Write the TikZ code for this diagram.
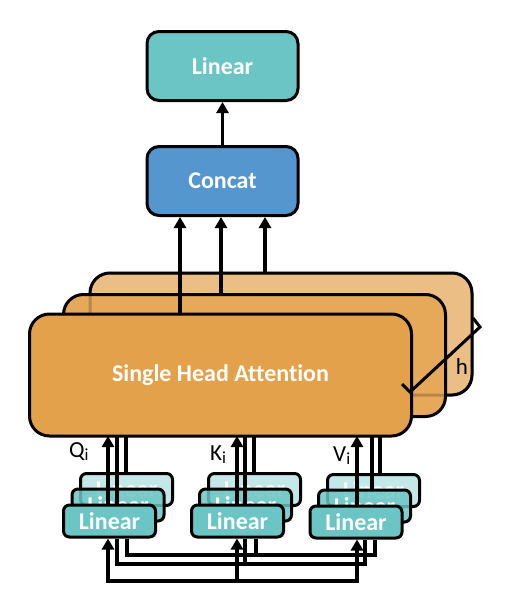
\documentclass[tikz,border=0pt]{standalone}
\usepackage{fontspec}
\setmainfont{Carlito}[Ligatures={NoCommon}]
\usetikzlibrary{arrows.meta,calc}
\definecolor{tealA}{RGB}{107,197,196}
\definecolor{tealL}{RGB}{196,232,231}
\definecolor{blueC}{RGB}{84,150,205}
\definecolor{orF}{RGB}{227,161,75}
\definecolor{orM}{RGB}{230,168,89}
\definecolor{orB}{RGB}{235,190,134}
\begin{document}
\begin{tikzpicture}[x=1pt,y=-1pt,
  bigbox/.style={draw=black, line width=3pt, rounded corners=12pt, text=white,
    font=\bfseries\fontsize{24}{28}\selectfont, inner sep=0pt,
    minimum width=151pt, minimum height=69pt},
  attbox/.style={draw=black, line width=3pt, rounded corners=20pt, text=white,
    font=\bfseries\fontsize{24}{28}\selectfont, inner sep=0pt, outer sep=0pt,
    minimum width=382pt, minimum height=122pt},
  linbox/.style={draw=black, line width=3pt, rounded corners=6pt, text=white,
    font=\bfseries\fontsize{24}{28}\selectfont, inner sep=0pt,
    minimum width=92pt, minimum height=32pt},
  ghost/.style={draw=black, line width=3pt, opacity=0.2},
  conn/.style={draw=black, line width=3.6pt, line join=miter},
  arr/.style={conn, -{Triangle[length=11pt,width=12pt]}},
  lab/.style={font=\fontsize{23}{27}\selectfont, inner sep=0pt, anchor=base west}
]
\useasboundingbox (0,0) rectangle (513,616);

% top boxes
\node[bigbox, fill=tealA] (lin) at (222.5,66) {Linear};
\node[bigbox, fill=blueC] (cat) at (222.5,181) {Concat};

% attention stack
\node[attbox, fill=orB] (attB) at (281,334) {};
\node[attbox, fill=orM] (attM) at (254.5,355.5) {};
\draw[ghost, rounded corners=20pt] (attB.north west) rectangle (attB.south east);
\node[attbox, fill=orF] (att) at (220.5,375) {Single Head Attention};

% h bracket
\draw[line width=3pt, line join=miter] (402,384) -- (410,392) -- (480,327) -- (473,318);
\node[font=\fontsize{23}{27}\selectfont, inner sep=0pt] (hlab) at (462,367) {h};

% Linear stacks
\node[linbox, fill=tealL] (qb) at (126.5,489.5) {Linear};
\node[linbox, fill=tealA, fill opacity=0.85, text opacity=1] (qm) at (118,505) {Linear};
\node[linbox, fill=tealA] (qf) at (109.5,521) {Linear};

\node[linbox, fill=tealL] (kb) at (254.5,489.5) {Linear};
\node[linbox, fill=tealA, fill opacity=0.85, text opacity=1] (km) at (245.5,505) {Linear};
\node[linbox, fill=tealA] (kf) at (237.5,521) {Linear};

\node[linbox, fill=tealL] (vb) at (373.5,490.5) {Linear};
\node[linbox, fill=tealA, fill opacity=0.85, text opacity=1] (vm) at (364.5,506) {Linear};
\node[linbox, fill=tealA] (vf) at (356,522) {Linear};

% labels
\node[lab] (ql) at (69,457) {Q\textsubscript{\fontsize{17}{20}\selectfont i}};
\node[lab] (kl) at (210,460) {K\textsubscript{\fontsize{17}{20}\selectfont i}};
\node[lab] (vl) at (333,461) {V\textsubscript{\fontsize{17}{20}\selectfont i}};

% arrows into Concat and Linear
\coordinate (c1) at (180,0);
\coordinate (c2) at (221,0);
\coordinate (c3) at (265,0);
\draw[arr] (c1 |- att.north) -- (c1 |- cat.south);
\draw[arr] (c2 |- attM.north) -- (c2 |- cat.south);
\draw[arr] (c3 |- attB.north) -- (c3 |- cat.south);
\draw[arr] (cat.north) -- (lin.south);

% lines from Linear stacks up to attention
\coordinate (qt1) at (108,0); \coordinate (qt2) at (117,0); \coordinate (qt3) at (126,0);
\coordinate (kt1) at (237,0); \coordinate (kt2) at (245,0); \coordinate (kt3) at (254,0);
\coordinate (vt1) at (357,0); \coordinate (vt2) at (372,0); \coordinate (vt3) at (380,0);
\draw[arr] (qt1 |- qf.north) -- (qt1 |- att.south);
\draw[conn] (qt2 |- qf.north) -- (qt2 |- att.south);
\draw[conn] (qt3 |- qb.north) -- (qt3 |- att.south);
\draw[arr] (kt1 |- kf.north) -- (kt1 |- att.south);
\draw[conn] (kt2 |- kf.north) -- (kt2 |- att.south);
\draw[conn] (kt3 |- kb.north) -- (kt3 |- att.south);
\draw[arr] (vt1 |- vf.north) -- (vt1 |- att.south);
\draw[conn] (vt2 |- vm.north) -- (vt2 |- att.south);
\draw[conn] (vt3 |- vb.north) -- (vt3 |- att.south);

% input buses
\coordinate (q1) at (108,581); \coordinate (k1) at (237,581); \coordinate (v1) at (357,581);
\coordinate (q2) at (117,564); \coordinate (k2) at (245,564); \coordinate (v2) at (365,564);
\coordinate (q3) at (127,555); \coordinate (k3) at (256,555); \coordinate (v3) at (375,555);
\draw[conn] (q3 |- qf.south) -- (q3) -- (v3) -- (v3 |- vf.south);
\draw[conn] (k3) -- (k3 |- kf.south);
\draw[conn] (q2 |- qf.south) -- (q2) -- (v2) -- (v2 |- vf.south);
\draw[conn] (k2) -- (k2 |- kf.south);
\draw[arr] (v1) -- (q1) -- (q1 |- qf.south);
\draw[arr] (q1) -- (v1) -- (v1 |- vf.south);
\draw[arr] (k1) -- (k1 |- kf.south);
\end{tikzpicture}
\end{document}
